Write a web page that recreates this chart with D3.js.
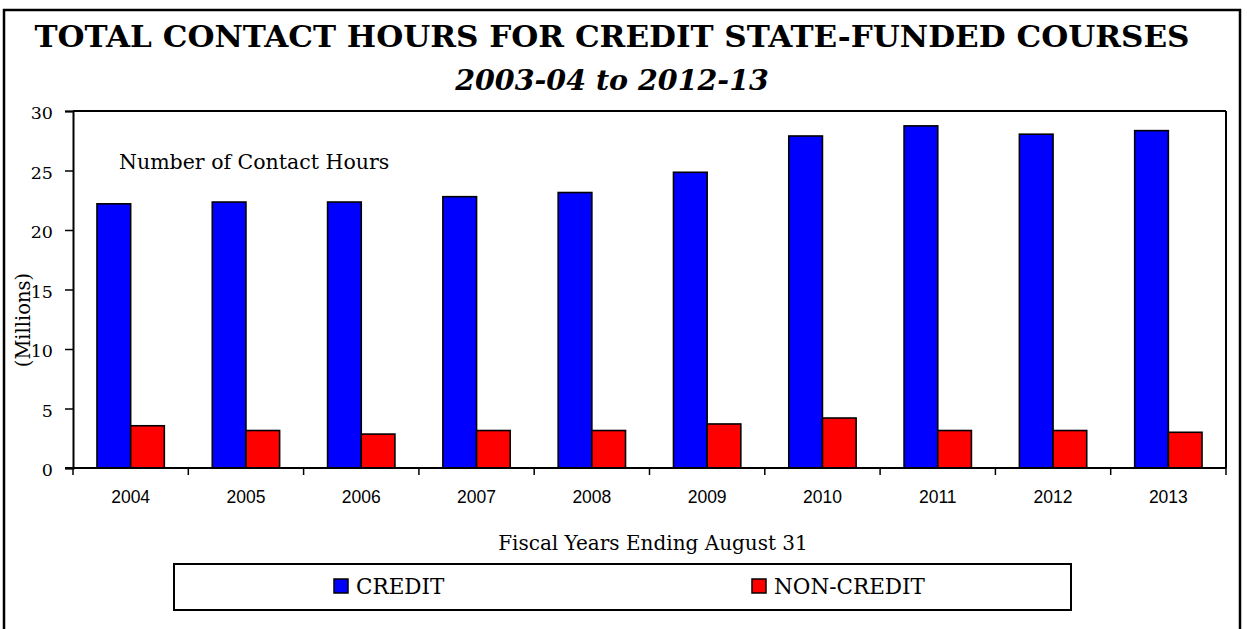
<!DOCTYPE html>
<html>
<head>
<meta charset="utf-8">
<script src="https://cdn.jsdelivr.net/npm/d3@7"></script>
<style>
  html, body { margin: 0; padding: 0; background: #fff; }
  svg { display: block; }
</style>
</head>
<body>
<svg id="chart" width="1247" height="629"></svg>
<script>
const years = ["2004","2005","2006","2007","2008","2009","2010","2011","2012","2013"];
const credit = [22.2, 22.35, 22.35, 22.8, 23.15, 24.85, 27.9, 28.75, 28.05, 28.35];
const nonCredit = [3.55, 3.15, 2.85, 3.15, 3.15, 3.7, 4.2, 3.15, 3.15, 3.0];
const seriesNames = ["CREDIT", "NON-CREDIT"];
const seriesColors = ["#0000FF", "#FF0000"];
const yTicks = [0, 5, 10, 15, 20, 25, 30];

const titleText = "TOTAL CONTACT HOURS FOR CREDIT STATE-FUNDED COURSES";
const subtitleText = "2003-04 to 2012-13";
const yLabelText = "(Millions)";
const innerNote = "Number of Contact Hours";
const xLabelText = "Fiscal Years Ending August 31";

const serif = "'DejaVu Serif', serif";
const sans = "'Liberation Sans', Arial, sans-serif";

const svg = d3.select("#chart");
const W = 1247, H = 629;
const plot = {left: 73, right: 1226, top: 111, bottom: 468};

// outer border
svg.append("rect").attr("x", 4).attr("y", 10).attr("width", 1236).attr("height", 660)
  .attr("fill", "none").attr("stroke", "#000").attr("stroke-width", 2.5);

// titles
const t = svg.append("text").attr("x", 612).attr("y", 47).attr("text-anchor", "middle")
  .attr("font-family", serif).attr("font-weight", "bold").attr("font-size", 29)
  .attr("textLength", 1155).attr("lengthAdjust", "spacingAndGlyphs")
  .text(titleText);
svg.append("text").attr("x", 612).attr("y", 90).attr("text-anchor", "middle")
  .attr("font-family", serif).attr("font-weight", "bold").attr("font-style", "italic")
  .attr("font-size", 28.5).text(subtitleText);

const x0 = d3.scaleBand().domain(years).range([plot.left, plot.right]).paddingInner(0).paddingOuter(0);
const bw = x0.bandwidth();
const x1 = d3.scaleBand().domain(seriesNames).range([0.208 * bw, 0.792 * bw]).padding(0);
const y = d3.scaleLinear().domain([0, 30]).range([plot.bottom, plot.top]);

// plot frame top and right
svg.append("line").attr("x1", plot.left).attr("x2", plot.right).attr("y1", plot.top).attr("y2", plot.top)
  .attr("stroke", "#000").attr("stroke-width", 2);
svg.append("line").attr("x1", plot.right).attr("x2", plot.right).attr("y1", plot.top).attr("y2", plot.bottom)
  .attr("stroke", "#000").attr("stroke-width", 2);

// bars
const rows = years.map((yr, i) => ({year: yr, values: [credit[i], nonCredit[i]]}));
const g = svg.append("g");
const grp = g.selectAll("g.grp").data(rows).join("g").attr("class", "grp")
  .attr("transform", d => `translate(${x0(d.year)},0)`);
grp.selectAll("rect").data(d => d.values.map((v, j) => ({name: seriesNames[j], v, j})))
  .join("rect")
  .attr("x", d => x1(d.name))
  .attr("width", x1.bandwidth())
  .attr("y", d => y(d.v))
  .attr("height", d => y(0) - y(d.v))
  .attr("fill", d => seriesColors[d.j])
  .attr("stroke", "#000").attr("stroke-width", 1.6);

// y axis
const yAxis = d3.axisLeft(y).tickValues(yTicks).tickSize(8).tickPadding(12).tickFormat(d3.format("d"));
const ya = svg.append("g").attr("transform", `translate(${plot.left},0)`).call(yAxis);
ya.select(".domain").attr("stroke", "#000").attr("stroke-width", 2);
ya.selectAll(".tick line").attr("stroke", "#000").attr("stroke-width", 1.5);
ya.selectAll(".tick text").attr("font-family", serif).attr("font-size", 17.5).attr("fill", "#000").attr("dy", "0.45em");

// x axis: ticks at band boundaries
const xa = svg.append("g").attr("transform", `translate(0,${plot.bottom})`);
xa.append("line").attr("x1", plot.left - 8).attr("x2", plot.right).attr("y1", 0).attr("y2", 0)
  .attr("stroke", "#000").attr("stroke-width", 2);
const boundaries = years.map(d => x0(d)).concat([plot.right]);
xa.selectAll("line.tk").data(boundaries).join("line").attr("class", "tk")
  .attr("x1", d => d).attr("x2", d => d).attr("y1", 0).attr("y2", 7)
  .attr("stroke", "#000").attr("stroke-width", 1.5);
xa.selectAll("text.lbl").data(years).join("text").attr("class", "lbl")
  .attr("x", d => x0(d) + bw / 2).attr("y", 35).attr("text-anchor", "middle")
  .attr("font-family", sans).attr("font-size", 17.5).attr("fill", "#000").text(d => d);

// labels
svg.append("text").attr("transform", "translate(30,320) rotate(-90)").attr("text-anchor", "middle")
  .attr("font-family", serif).attr("font-size", 19.5).text(yLabelText);
svg.append("text").attr("x", 119).attr("y", 169).attr("font-family", serif).attr("font-size", 20.5).text(innerNote);
svg.append("text").attr("x", 653).attr("y", 550).attr("text-anchor", "middle")
  .attr("font-family", serif).attr("font-size", 20).text(xLabelText);

// legend
const lg = svg.append("g");
lg.append("rect").attr("x", 174).attr("y", 564).attr("width", 897).attr("height", 46)
  .attr("fill", "#fff").attr("stroke", "#000").attr("stroke-width", 2);
const legendX = [334, 752];
seriesNames.forEach((name, i) => {
  lg.append("rect").attr("x", legendX[i]).attr("y", 579).attr("width", 14).attr("height", 14)
    .attr("fill", seriesColors[i]).attr("stroke", "#000").attr("stroke-width", 1.5);
  lg.append("text").attr("x", legendX[i] + 22).attr("y", 594)
    .attr("font-family", serif).attr("font-size", 21.5).text(name);
});
</script>
</body>
</html>
